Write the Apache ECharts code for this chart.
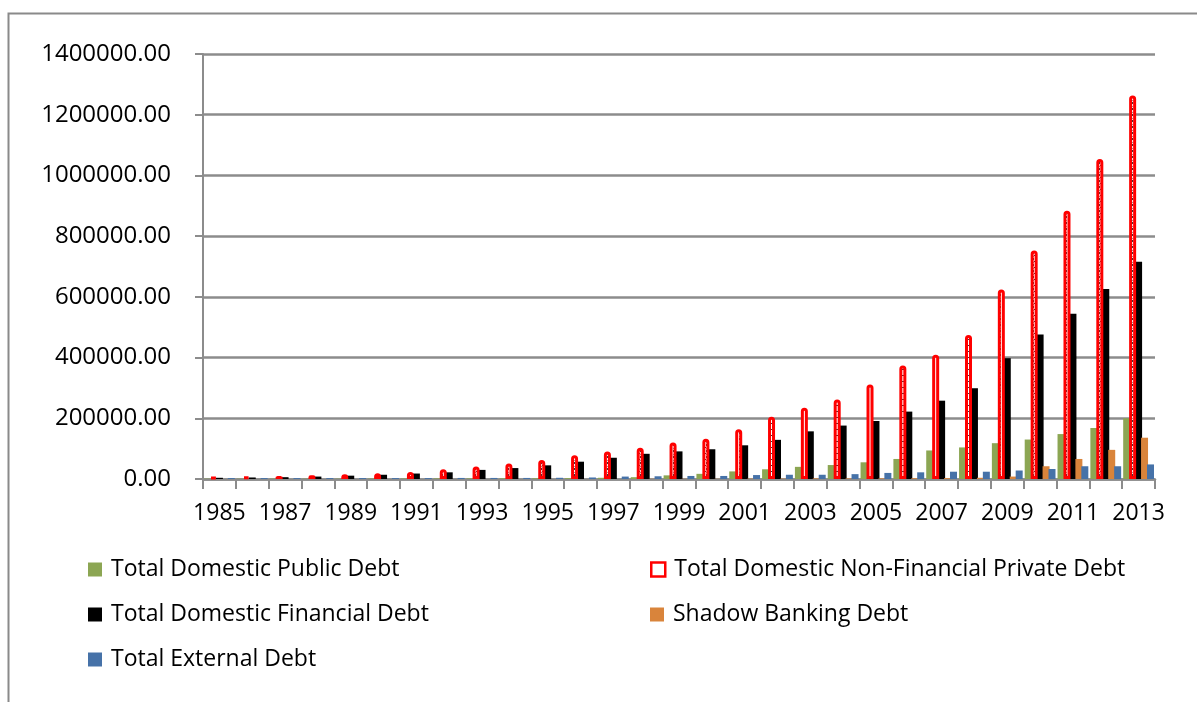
<!DOCTYPE html>
<html>
<head>
<meta charset="utf-8">
<script src="https://cdn.jsdelivr.net/npm/echarts@6/dist/echarts.min.js"></script>
<style>
html,body{margin:0;padding:0;background:#fff;}
#chart{width:1197px;height:702px;}
</style>
</head>
<body>
<div id="chart"></div>
<script>
// ---- data ----
const years = ['1985','1986','1987','1988','1989','1990','1991','1992','1993','1994','1995','1996','1997','1998','1999','2000','2001','2002','2003','2004','2005','2006','2007','2008','2009','2010','2011','2012','2013'];
const publicDebt = [1000,1000,1000,1000,1000,1500,1500,2000,2000,2000,2500,3000,4000,6000,12000,17000,25000,32000,40000,46000,55000,66000,94000,104000,118000,130000,148000,168000,200000];
const privateDebt = [7000,8000,10000,12000,16000,19000,23000,32000,41000,51000,63000,78000,91000,103000,120000,133000,164000,205000,235000,262000,311000,374000,409000,474000,624000,753000,884000,1054000,1263000];
const financialDebt = [4000,5000,6000,8000,11000,14000,18000,22000,30000,36000,45000,57000,70000,83000,91000,98000,111000,129000,157000,176000,191000,222000,258000,299000,398000,476000,544000,626000,716000];
const shadowDebt = [0,0,0,0,0,0,0,0,0,0,0,0,0,500,500,500,1000,1000,2000,2000,2000,2500,3000,4000,8000,42000,66000,96000,136000];
const externalDebt = [3000,3000,3000,3000,3000,3000,3000,3500,3500,3500,4000,5000,8000,9000,10000,10000,13000,14000,14000,16000,20000,22000,24000,24000,28000,33000,42000,42000,48000];
const yTicks = {min:0, max:1400000, interval:200000};
const seriesNames = ['Total Domestic Public Debt','Total Domestic Non-Financial Private Debt','Total Domestic Financial Debt','Shadow Banking Debt','Total External Debt'];

// ---- pattern for private debt bars ----
const pc = document.createElement('canvas');
pc.width = 6; pc.height = 6;
const px = pc.getContext('2d');
px.fillStyle = '#ffffff'; px.fillRect(0,0,6,6);
px.fillStyle = '#3a3a3a';
px.fillRect(1,0,1,2); px.fillRect(4,0,1,2);
px.fillRect(2,3,2,1);
px.fillStyle = '#9a9a9a';
px.fillRect(1,4,1,1); px.fillRect(4,4,1,1);

const FONT = 'Open Sans';
const colors = ['#8CA653','#FF0000','#000000','#D9843B','#4672A8'];

const chart = echarts.init(document.getElementById('chart'), null, {renderer:'canvas'});

function legendAt(i, left, top){
  const d = {name: seriesNames[i]};
  if (i === 1) d.itemStyle = {color:'#ffffff', borderColor:'#FF0000', borderWidth:2.5};
  return {
    data:[d], left:left, top:top, padding:0, itemWidth:14, itemHeight:14, icon:'rect',
    textStyle:{fontFamily:FONT, fontSize:23, color:'#000', padding:[0,0,0,4]}
  };
}

const barW = 7;
const option = {
  animation:false,
  backgroundColor:'#ffffff',
  textStyle:{fontFamily:FONT},
  graphic:[{type:'rect', shape:{x:8.5,y:13.5,width:1300,height:900}, style:{fill:'none', stroke:'#8a8a8a', lineWidth:2}, silent:true, z:-10}],
  legend:[
    legendAt(0, 88, 558),
    legendAt(1, 650, 558),
    legendAt(2, 88, 603),
    legendAt(3, 650, 603),
    legendAt(4, 88, 648)
  ],
  grid:{left:203, right:42, top:54, height:425, containLabel:false},
  xAxis:{
    type:'category', data:years, boundaryGap:true,
    axisLine:{lineStyle:{color:'#8c8c8c', width:2.5}},
    axisTick:{show:true, interval:0, length:10, lineStyle:{color:'#8c8c8c', width:2}},
    axisLabel:{interval:1, color:'#000', fontFamily:FONT, fontSize:23, margin:23},
    splitLine:{show:false}
  },
  yAxis:{
    type:'value', min:yTicks.min, max:yTicks.max, interval:yTicks.interval,
    axisLine:{show:true, lineStyle:{color:'#8c8c8c', width:2}},
    axisTick:{show:true, length:8, lineStyle:{color:'#8c8c8c', width:2}},
    axisLabel:{color:'#000', fontFamily:FONT, fontSize:24, margin:32, formatter:v=>v.toFixed(2)},
    splitLine:{show:true, lineStyle:{color:'#8c8c8c', width:2.5}}
  },
  series:[
    {name:seriesNames[0], type:'bar', data:publicDebt, barWidth:barW, barGap:'-15%', itemStyle:{color:colors[0]}},
    {name:seriesNames[1], type:'bar', data:privateDebt, barWidth:barW, barGap:'-15%', z:3, itemStyle:{color:{image:pc, repeat:'repeat'}, borderColor:'#FF0000', borderWidth:3, borderRadius:[3,3,0,0]}},
    {name:seriesNames[2], type:'bar', data:financialDebt, barWidth:barW, barGap:'-15%', itemStyle:{color:colors[2]}},
    {name:seriesNames[3], type:'bar', data:shadowDebt, barWidth:barW, barGap:'-15%', itemStyle:{color:colors[3]}},
    {name:seriesNames[4], type:'bar', data:externalDebt, barWidth:barW, barGap:'-15%', itemStyle:{color:colors[4]}}
  ]
};
option.color = colors;
chart.setOption(option);
</script>
</body>
</html>
